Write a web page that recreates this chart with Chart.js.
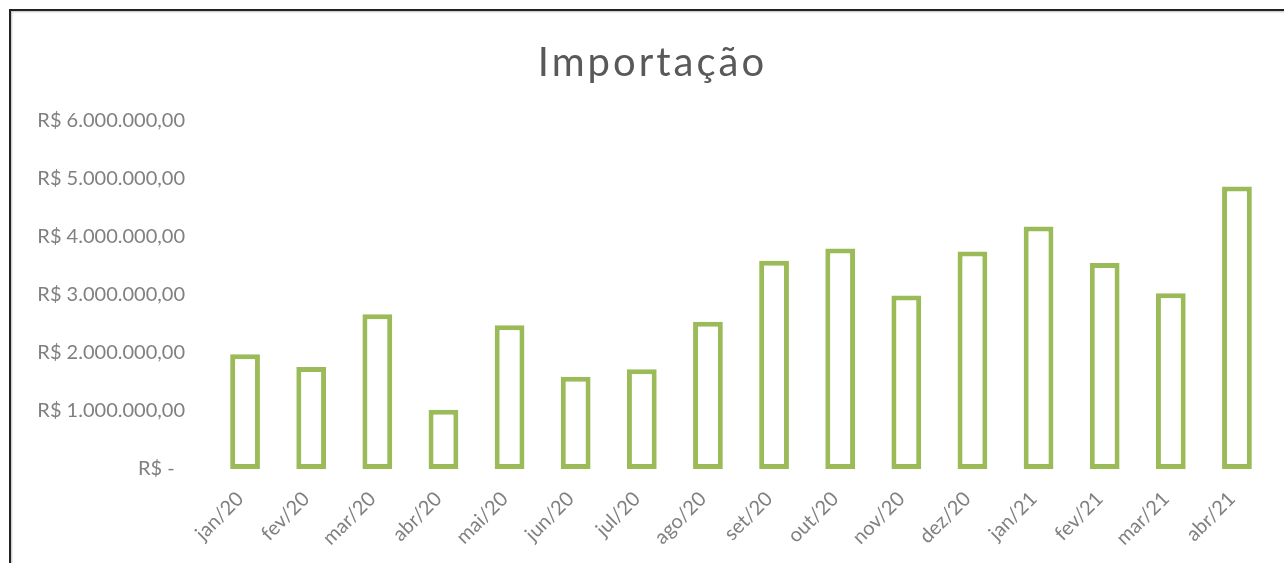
<!DOCTYPE html>
<html lang="pt-BR">
<head>
<meta charset="utf-8">
<script src="https://cdn.jsdelivr.net/npm/chart.js@4"></script>
<style>
  html, body { margin: 0; padding: 0; background: #fff; overflow: hidden; }
  #moldura {
    position: absolute; left: 9px; top: 9px; width: 1400px; height: 700px;
    border-left: 2px solid #222; border-top: 2px solid #222;
    box-shadow: 1px 1px 2px rgba(0,0,0,0.25) inset;
  }
  #caixa { position: absolute; left: 0; top: 0; width: 1284px; height: 563px; }
</style>
</head>
<body>
<div id="moldura"></div>
<div id="caixa"><canvas id="graficoImportacao"></canvas></div>
<script>
// dados
const meses = ["jan/20", "fev/20", "mar/20", "abr/20", "mai/20", "jun/20", "jul/20", "ago/20",
  "set/20", "out/20", "nov/20", "dez/20", "jan/21", "fev/21", "mar/21", "abr/21"];
const importacao = [1980000, 1760000, 2670000, 1020000, 2480000, 1590000, 1720000, 2540000,
  3590000, 3800000, 2990000, 3750000, 4180000, 3550000, 3030000, 4870000];
const ticksY = [0, 1000000, 2000000, 3000000, 4000000, 5000000, 6000000];

// formata no estilo contábil do Excel: R$ 1.000.000,00
function formatarReal(v) {
  if (v === 0) return "R$ -  ";
  const inteiro = Math.floor(v).toString().replace(/\B(?=(\d{3})+(?!\d))/g, ".");
  return "R$ " + inteiro + ",00";
}

const ctx = document.getElementById("graficoImportacao").getContext("2d");
const grafico = new Chart(ctx, {
  type: "bar",
  data: {
    labels: meses,
    datasets: [{
      label: "Importação",
      data: importacao,
      backgroundColor: "#ffffff",
      borderColor: "#9bbb59",
      borderWidth: 5,
      borderSkipped: false,
      barPercentage: 0.45,
      categoryPercentage: 1,
    }],
  },
  options: {
    responsive: true,
    maintainAspectRatio: false,
    animation: false,
    layout: { padding: { left: 35, right: 14, top: 0, bottom: 0 } },
    plugins: {
      legend: { display: false },
      tooltip: { enabled: false },
      title: {
        display: true,
        text: "Importação",
        color: "#595959",
        font: { family: "Lato", size: 40, weight: "normal" },
        padding: { top: 39, bottom: 34 },
      },
    },
    scales: {
      x: {
        grid: { display: false, drawTicks: false },
        border: { display: false },
        ticks: {
          color: "#808080",
          font: { family: "Lato", size: 20 },
          minRotation: 45,
          maxRotation: 45,
          padding: 18,
          labelOffset: -5,
        },
        afterFit: (scale) => { scale.height = 94; },
      },
      y: {
        min: 0,
        max: 6000000,
        grid: { display: false, drawTicks: false },
        border: { display: false },
        afterBuildTicks: (scale) => { scale.ticks = ticksY.map((v) => ({ value: v })); },
        ticks: {
          color: "#808080",
          font: { family: "Lato", size: 20 },
          padding: 27,
          callback: (v) => formatarReal(v),
        },
        afterFit: (scale) => { scale.width = 177; },
      },
    },
  },
});

// o título do Excel tem as letras mais espaçadas
const desenharTitulo = grafico.titleBlock.draw.bind(grafico.titleBlock);
grafico.titleBlock.draw = function (area) {
  ctx.save();
  ctx.letterSpacing = "3px";
  desenharTitulo(area);
  ctx.restore();
};
grafico.update();
</script>
</body>
</html>
